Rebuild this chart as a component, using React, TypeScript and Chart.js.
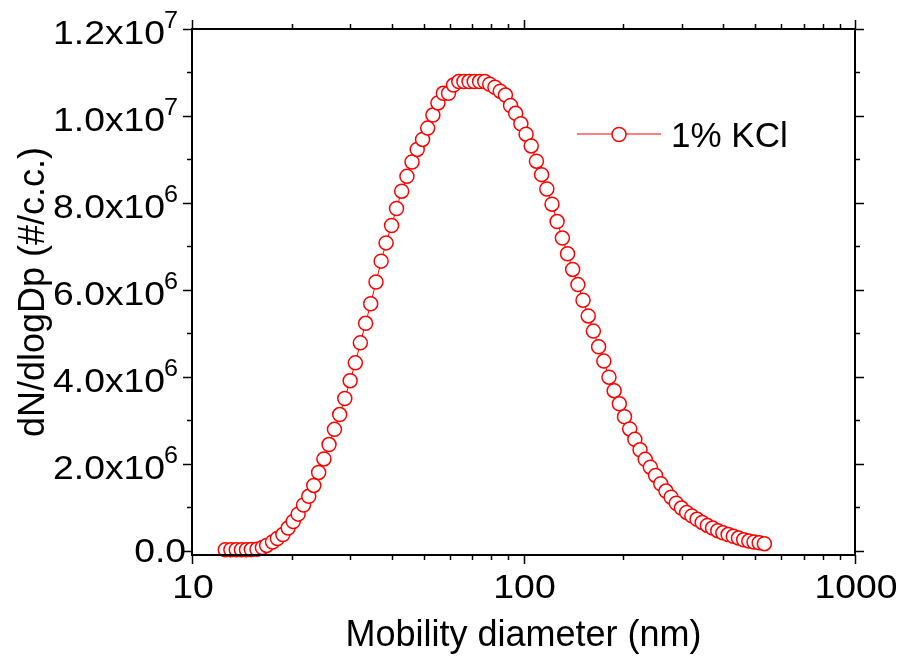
import React, { useEffect, useRef } from "react";
import { Chart, registerables } from "chart.js";

Chart.register(...registerables);

// Mobility diameter channels (nm)
const diameters = [
  12.6, 13.1, 13.6, 14.1, 14.6, 15.1, 15.7, 16.3, 16.8, 17.5, 18.1, 18.8, 19.5,
  20.2, 20.9, 21.7, 22.5, 23.3, 24.1, 25.0, 25.9, 26.9, 27.9, 28.9,
  30.0, 31.1, 32.2, 33.4, 34.6, 35.9, 37.2, 38.5,
  40.0, 41.4, 42.9, 44.5, 46.1, 47.8, 49.6,
  51.4, 53.3, 55.2, 57.3, 59.4,
  61.5, 63.8, 66.1, 68.5, 71.0, 73.7, 76.4, 79.1, 82.0, 85.1, 88.2, 91.4, 94.7, 98.2,
  101.8, 105.5, 109.4, 113.4, 117.6, 121.9, 126.3, 131.0, 135.8, 140.7, 145.9, 151.2,
  156.8, 162.5, 168.5, 174.7, 181.1, 187.7, 194.6,
  201.7, 209.1, 216.7, 224.7, 232.9, 241.4, 250.3, 259.5, 269.0, 278.8, 289.0, 299.6,
  310.6, 322.0, 333.8, 346.0, 358.7, 371.8, 385.4, 399.5, 414.2, 429.4, 445.1, 461.4,
  478.3, 495.8, 514.0, 532.8,
];

// dN/dlogDp (#/c.c.)
const concentrations = [
  2.0e4, 2.0e4, 2.0e4, 2.0e4, 2.0e4, 2.5e4, 3.0e4, 7.0e4, 1.2e5, 2.0e5, 2.8e5, 3.7e5, 5.2e5,
  6.7e5, 8.4e5, 1.05e6, 1.25e6, 1.5e6, 1.8e6, 2.11e6, 2.44e6, 2.79e6, 3.13e6, 3.5e6,
  3.91e6, 4.32e6, 4.78e6, 5.23e6, 5.68e6, 6.18e6, 6.66e6, 7.08e6,
  7.48e6, 7.87e6, 8.27e6, 8.61e6, 8.94e6, 9.23e6, 9.46e6,
  9.72e6, 1.002e7, 1.03e7, 1.052e7, 1.052e7,
  1.071e7, 1.079e7, 1.079e7, 1.079e7, 1.079e7, 1.079e7, 1.079e7, 1.073e7, 1.066e7, 1.057e7, 1.048e7, 1.024e7, 1.006e7, 9.82e6,
  9.58e6, 9.31e6, 8.96e6, 8.65e6, 8.32e6, 7.97e6, 7.57e6, 7.19e6, 6.83e6, 6.47e6, 6.12e6, 5.76e6,
  5.4e6, 5.05e6, 4.69e6, 4.36e6, 3.99e6, 3.68e6, 3.38e6,
  3.08e6, 2.8e6, 2.56e6, 2.32e6, 2.1e6, 1.92e6, 1.73e6, 1.54e6, 1.37e6, 1.23e6, 1.09e6, 9.8e5,
  8.8e5, 8.0e5, 7.2e5, 6.5e5, 5.8e5, 5.2e5, 4.6e5, 4.1e5, 3.7e5, 3.3e5, 2.9e5, 2.5e5,
  2.2e5, 2.0e5, 1.8e5, 1.6e5,
];

const seriesLabel = "1% KCl";
const xTitle = "Mobility diameter (nm)";
const yTitle = "dN/dlogDp (#/c.c.)";

const xMajorTicks = [10, 100, 1000];
const xTickLabels = ["10", "100", "1000"];
const xMinorTicks = [20, 30, 40, 50, 60, 70, 80, 90, 200, 300, 400, 500, 600, 700, 800, 900];

const yMajorTicks = [0, 2e6, 4e6, 6e6, 8e6, 1e7, 1.2e7];
const yTickMantissas = ["0.0", "2.0x10", "4.0x10", "6.0x10", "8.0x10", "1.0x10", "1.2x10"];
const yTickExponents = ["", "6", "6", "6", "6", "7", "7"];
const yMinorTicks = [1e6, 3e6, 5e6, 7e6, 9e6, 1.1e7];

const X_MIN = 10;
const X_MAX = 1000;
const Y_MIN = -1e5;
const Y_MAX = 1.2e7;

const FONT = '"Liberation Sans", Arial, sans-serif';
const RED = "#ff0000";

function drawText(
  ctx: CanvasRenderingContext2D,
  text: string,
  x: number,
  y: number,
  size: number,
  align: "left" | "right" | "center",
  sx: number
) {
  ctx.save();
  ctx.font = `${size}px ${FONT}`;
  const w = ctx.measureText(text).width * sx;
  const x0 = align === "right" ? x - w : align === "center" ? x - w / 2 : x;
  ctx.translate(x0, y);
  ctx.scale(sx, 1);
  ctx.textAlign = "left";
  ctx.textBaseline = "alphabetic";
  ctx.fillStyle = "#000";
  ctx.fillText(text, 0, 0);
  ctx.restore();
  return w;
}

const framePlugin = {
  id: "originFrame",
  afterDraw(chart: any) {
    const ctx: CanvasRenderingContext2D = chart.ctx;
    const { left, right, top, bottom } = chart.chartArea;
    const xs = chart.scales.x;
    const ys = chart.scales.y;
    ctx.save();

    // frame
    ctx.strokeStyle = "#000";
    ctx.lineWidth = 2;
    ctx.strokeRect(left, top, right - left, bottom - top);

    // ticks
    ctx.lineWidth = 1.5;
    const line = (x1: number, y1: number, x2: number, y2: number) => {
      ctx.beginPath();
      ctx.moveTo(x1, y1);
      ctx.lineTo(x2, y2);
      ctx.stroke();
    };
    xMajorTicks.forEach((v) => {
      const px = Math.round(xs.getPixelForValue(v)) + 0.5;
      line(px, bottom, px, bottom + 9);
      line(px, top, px, top - 9);
    });
    xMinorTicks.forEach((v) => {
      const px = Math.round(xs.getPixelForValue(v)) + 0.5;
      line(px, bottom, px, bottom + 5);
      line(px, top, px, top - 5);
    });
    yMajorTicks.forEach((v) => {
      const py = Math.round(ys.getPixelForValue(v)) + 0.5;
      line(left, py, left - 9, py);
      line(right, py, right + 9, py);
    });
    yMinorTicks.forEach((v) => {
      const py = Math.round(ys.getPixelForValue(v)) + 0.5;
      line(left, py, left - 5, py);
      line(right, py, right + 5, py);
    });

    // x tick labels
    xMajorTicks.forEach((v, i) => {
      const px = xs.getPixelForValue(v);
      drawText(ctx, xTickLabels[i], px + 1, 598, 34, "center", 1.1);
    });

    // y tick labels
    yMajorTicks.forEach((v, i) => {
      const py = ys.getPixelForValue(v);
      const exp = yTickExponents[i];
      if (!exp) {
        drawText(ctx, yTickMantissas[i], 186, py + 11.7, 33, "right", 1.13);
      } else {
        drawText(ctx, yTickMantissas[i], 165, py + 15, 33, "right", 1.13);
        drawText(ctx, exp, 164, py - 1, 24, "left", 1.05);
      }
    });

    // axis titles
    drawText(ctx, xTitle, (left + right) / 2, 646, 36, "center", 1);
    ctx.save();
    ctx.translate(43.5, (top + bottom) / 2);
    ctx.rotate(-Math.PI / 2);
    drawText(ctx, yTitle, 0, 0, 36, "center", 1);
    ctx.restore();

    // legend
    ctx.strokeStyle = RED;
    ctx.lineWidth = 1;
    line(577, 134, 661, 134);
    ctx.beginPath();
    ctx.arc(619, 134.5, 7, 0, Math.PI * 2);
    ctx.fillStyle = "#fff";
    ctx.fill();
    ctx.lineWidth = 1.5;
    ctx.stroke();
    drawText(ctx, seriesLabel, 671, 146.7, 35, "left", 1);

    ctx.restore();
  },
};

export default function App() {
  const canvasRef = useRef<HTMLCanvasElement | null>(null);

  useEffect(() => {
    const canvas = canvasRef.current;
    if (!canvas) return;
    const chart = new Chart(canvas, {
      type: "line",
      data: {
        datasets: [
          {
            label: seriesLabel,
            data: diameters.map((d, i) => ({ x: d, y: concentrations[i] })),
            borderColor: RED,
            borderWidth: 1,
            pointRadius: 7,
            pointBorderWidth: 1.5,
            pointBackgroundColor: "#ffffff",
            pointBorderColor: RED,
            pointStyle: "circle",
            tension: 0,
            clip: false as any,
          },
        ],
      },
      options: {
        animation: false,
        responsive: false,
        events: [],
        layout: { padding: { left: 192, right: 43, top: 29, bottom: 104 } },
        scales: {
          x: { type: "logarithmic", min: X_MIN, max: X_MAX, display: false },
          y: { type: "linear", min: Y_MIN, max: Y_MAX, display: false },
        },
        plugins: {
          legend: { display: false },
          tooltip: { enabled: false },
        },
      },
      plugins: [framePlugin],
    });
    return () => chart.destroy();
  }, []);

  return (
    <div style={{ position: "absolute", left: 0, top: 0, width: 898, height: 659, background: "#fff" }}>
      <canvas ref={canvasRef} width={898} height={659} style={{ display: "block", width: 898, height: 659 }} />
    </div>
  );
}
